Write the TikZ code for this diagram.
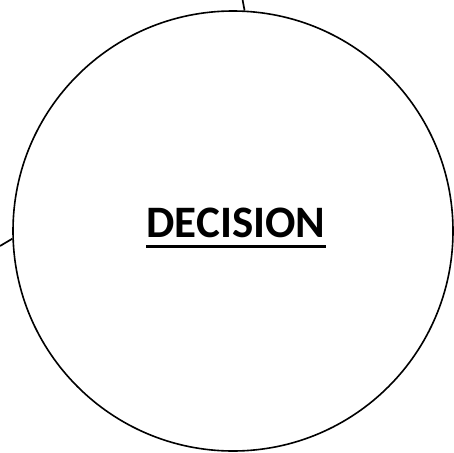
\documentclass[tikz,border=0pt]{standalone}
\usepackage{fontspec}
\newfontfamily\carl{Carlito}
\begin{document}
\begin{tikzpicture}[x=1pt,y=-1pt,
  ring/.style={circle,draw,line width=1.6pt,minimum size=440pt,inner sep=0pt},
  wire/.style={line width=1.7pt},
  label/.style={font=\carl\bfseries\fontsize{45}{54}\selectfont,inner sep=0pt,anchor=base}]
\useasboundingbox (0,0) rectangle (454,452);
\node[ring] (c) at (233,231) {};
\coordinate (topend) at (242.6,0);
\coordinate (leftend) at (0,246);
\draw[wire] (topend) -- (c.87.5);
\draw[wire] (leftend) -- (c.182.6);
\node[label] (t) at (236,237) {DECISION};
\draw[line width=3pt] ([yshift=-9pt]t.base west) -- ([yshift=-9pt]t.base east);
\end{tikzpicture}
\end{document}
